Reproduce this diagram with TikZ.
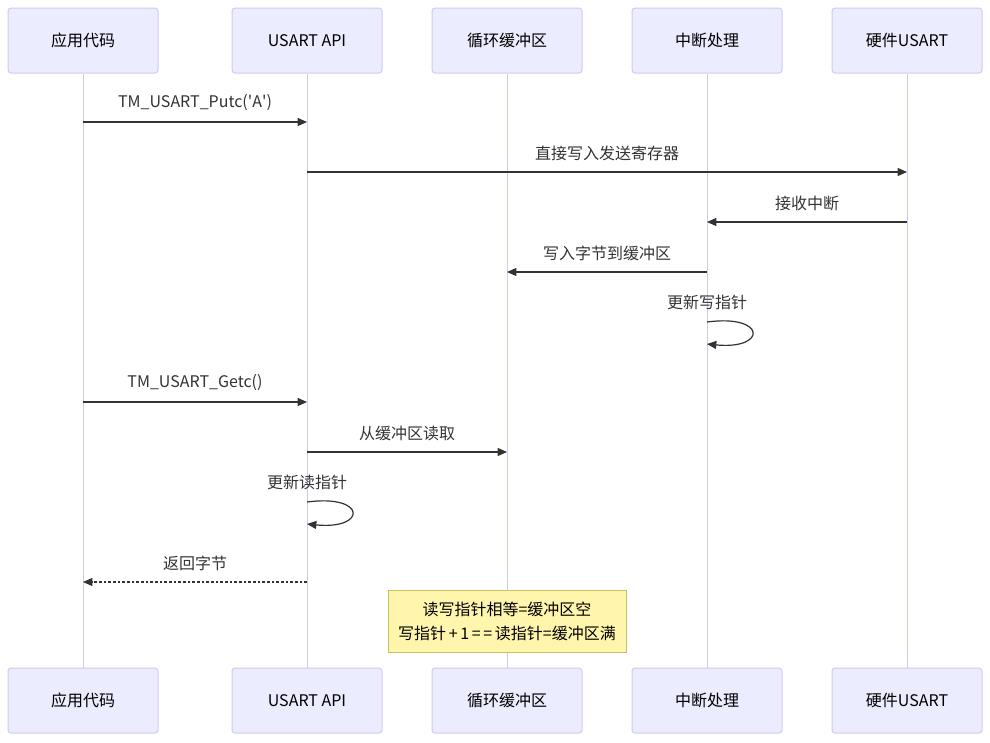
\documentclass[tikz,border=0pt]{standalone}
\usepackage{fontspec}
\setmainfont{Noto Sans CJK SC}
\newfontfamily\plainfont{Noto Sans CJK SC}
\usetikzlibrary{arrows.meta,calc}

\definecolor{actfill}{HTML}{ECECFF}
\definecolor{actline}{HTML}{D3C9F0}
\definecolor{txtgray}{HTML}{333333}
\definecolor{notefill}{HTML}{FFF5AD}
\definecolor{noteline}{HTML}{C8C060}

\tikzset{
  actor/.style={draw=actline,fill=actfill,rounded corners=2.25pt,line width=0.75pt,
    minimum width=112.5pt,minimum height=48.75pt,text=black,font=\fontsize{12}{14}\selectfont},
  life/.style={draw=actline,line width=0.75pt},
  msg/.style={draw=txtgray,line width=0.9pt,-{Triangle[length=7pt,width=6pt]}},
  ret/.style={msg,dash pattern=on 2pt off 1.5pt},
  lbl/.style={text=txtgray,font=\fontsize{12}{14}\selectfont,inner sep=0pt},
  notebox/.style={draw=noteline,fill=notefill,line width=0.75pt,align=center,
    minimum width=178.5pt,minimum height=46.5pt,text=black,font=\fontsize{12}{18}\selectfont}
}

\begin{document}
\begin{tikzpicture}[x=0.75pt,y=-0.75pt]
\useasboundingbox (0,0) rectangle (990,743);

% Top and bottom actor boxes
\foreach \n/\x/\t in {app/83/应用代码,api/307/USART API,buf/507/循环缓冲区,isr/707/中断处理,hw/907/硬件USART}{
  \node[actor] (\n) at (\x,40.5) {\t};
  \node[actor] (\n b) at (\x,700.5) {\t};
}

% Lifelines
\foreach \n in {app,api,buf,isr,hw}
\draw[life] (\n) -- (\n b);

% Note over the buffer
\node[notebox] (note) at (507,621) {读写指针相等=缓冲区空\\写指针\,+\,1\,=\,=\,读指针=缓冲区满};

% Messages
\draw[msg] (app |- 0,122) -- node[lbl,above=8pt] {TM\_USART\_Putc({\plainfont'}A{\plainfont'})} (api |- 0,122);
\draw[msg] (api |- 0,172) -- node[lbl,above=8pt] {直接写入发送寄存器} (hw |- 0,172);
\draw[msg] (hw |- 0,222) -- node[lbl,above=8pt] {接收中断} (isr |- 0,222);
\draw[msg] (isr |- 0,272) -- node[lbl,above=8pt] {写入字节到缓冲区} (buf |- 0,272);

% Self call on the interrupt handler
\node[lbl] (wlbl) at (707,302) {更新写指针};
\draw[msg] (isr |- 0,322) .. controls (767,314) and (767,350) .. (isr |- 0,344);

\draw[msg] (app |- 0,402) -- node[lbl,above=8pt] {TM\_USART\_Getc()} (api |- 0,402);
\draw[msg] (api |- 0,452) -- node[lbl,above=8pt] {从缓冲区读取} (buf |- 0,452);

% Self call on the API
\node[lbl] (rlbl) at (307,482) {更新读指针};
\draw[msg] (api |- 0,502) .. controls (367,494) and (367,530) .. (api |- 0,524);

% Return value
\draw[ret] (api |- 0,582) -- node[lbl,above=8pt] {返回字节} (app |- 0,582);

\end{tikzpicture}
\end{document}
